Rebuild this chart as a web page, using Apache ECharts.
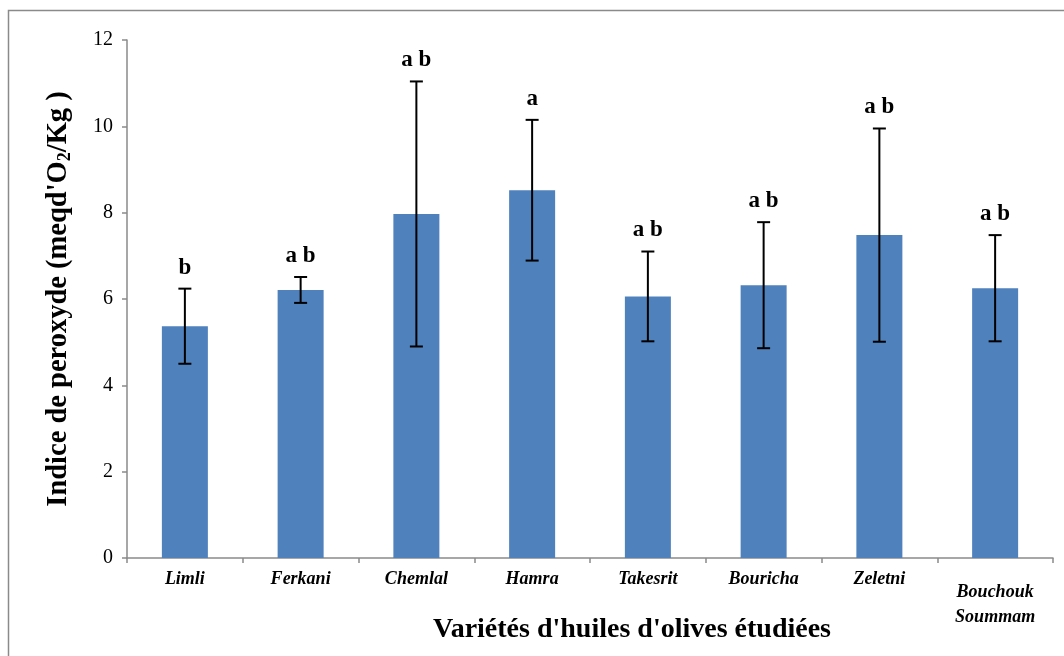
<!DOCTYPE html>
<html>
<head>
<meta charset="utf-8">
<script src="https://cdn.jsdelivr.net/npm/echarts@6/dist/echarts.min.js"></script>
<style>html,body{margin:0;padding:0;background:#fff;}#c{width:1064px;height:656px;}</style>
</head>
<body>
<div id="c"></div>
<script>
const categories = ['Limli', 'Ferkani', 'Chemlal', 'Hamra', 'Takesrit', 'Bouricha', 'Zeletni', 'Bouchouk Soummam'];
const means = [5.37, 6.21, 7.97, 8.52, 6.06, 6.32, 7.48, 6.25];
const sds = [0.87, 0.30, 3.07, 1.63, 1.04, 1.46, 2.47, 1.23];
const letters = ['b', 'a b', 'a b', 'a', 'a b', 'a b', 'a b', 'a b'];
const yTicks = { min: 0, max: 12, interval: 2 };

const serif = '"Liberation Serif", "Times New Roman", serif';
const chart = echarts.init(document.getElementById('c'));
const labStyle = { fontSize: 18, fontStyle: 'italic', fontWeight: 'bold', fontFamily: serif, color: '#000' };

chart.setOption({
  animation: false,
  backgroundColor: '#fff',
  graphic: [{
    type: 'rect', shape: { x: 8.5, y: 10.5, width: 1080, height: 680 },
    style: { fill: 'none', stroke: '#8a8a8a', lineWidth: 1.5 }, silent: true
  }],
  grid: { left: 127, right: 11, top: 40, bottom: 98, containLabel: false, outerBoundsMode: 'none' },
  xAxis: {
    type: 'category',
    data: categories,
    axisLine: { lineStyle: { color: '#8a8a8a', width: 1.5 } },
    axisTick: { show: true, length: 5, lineStyle: { color: '#8a8a8a', width: 1.5 } },
    axisLabel: {
      interval: 0, margin: 11,
      formatter: function (v) {
        const parts = v.split(' ');
        if (parts.length > 1) return '{t1|' + parts[0] + '}\n{t2|' + parts.slice(1).join(' ') + '}';
        return '{s|' + v + '}';
      },
      rich: {
        s: Object.assign({ lineHeight: 20 }, labStyle),
        t1: Object.assign({ lineHeight: 32, verticalAlign: 'bottom' }, labStyle),
        t2: Object.assign({ lineHeight: 25, verticalAlign: 'bottom' }, labStyle)
      }
    },
    name: "Variétés d'huiles d'olives étudiées",
    nameLocation: 'middle',
    nameGap: 58,
    nameMoveOverlap: false,
    nameTextStyle: { fontSize: 28, fontWeight: 'bold', fontFamily: serif, color: '#000', padding: [0, 0, 0, 84] }
  },
  yAxis: {
    type: 'value',
    min: yTicks.min, max: yTicks.max, interval: yTicks.interval,
    axisLine: { show: true, lineStyle: { color: '#8a8a8a', width: 1.5 } },
    axisTick: { show: true, length: 5, lineStyle: { color: '#8a8a8a', width: 1.5 } },
    splitLine: { show: false },
    axisLabel: { fontSize: 20, fontFamily: serif, color: '#000', margin: 14 },
    name: "{t|Indice de peroxyde (meqd'O}{sub|2}{t|/Kg )}",
    nameLocation: 'middle',
    nameGap: 53,
    nameTextStyle: {
      rich: {
        t: { fontSize: 28.5, fontWeight: 'bold', fontFamily: serif, color: '#000', lineHeight: 30 },
        sub: { fontSize: 18, fontWeight: 'bold', fontFamily: serif, color: '#000', lineHeight: 30, verticalAlign: 'bottom' }
      }
    }
  },
  series: [
    {
      type: 'bar',
      data: means,
      barWidth: 46,
      itemStyle: { color: '#4F81BD' }
    },
    {
      type: 'custom',
      z: 5,
      data: categories.map((c, i) => [i, means[i], sds[i]]),
      encode: { x: 0, y: 1 },
      renderItem: function (params, api) {
        const i = api.value(0);
        const m = api.value(1);
        const s = api.value(2);
        const top = api.coord([i, m + s]);
        const bot = api.coord([i, m - s]);
        const hc = 6.5;
        const ls = { stroke: '#000', lineWidth: 2 };
        return {
          type: 'group',
          children: [
            { type: 'line', shape: { x1: top[0], y1: top[1], x2: bot[0], y2: bot[1] }, style: ls },
            { type: 'line', shape: { x1: top[0] - hc, y1: top[1], x2: top[0] + hc, y2: top[1] }, style: ls },
            { type: 'line', shape: { x1: bot[0] - hc, y1: bot[1], x2: bot[0] + hc, y2: bot[1] }, style: ls },
            { type: 'text', style: { text: letters[params.dataIndex], x: top[0], y: top[1] - 21, align: 'center', verticalAlign: 'middle', font: 'bold 23px ' + serif, fill: '#000' } }
          ]
        };
      }
    }
  ]
});
</script>
</body>
</html>
